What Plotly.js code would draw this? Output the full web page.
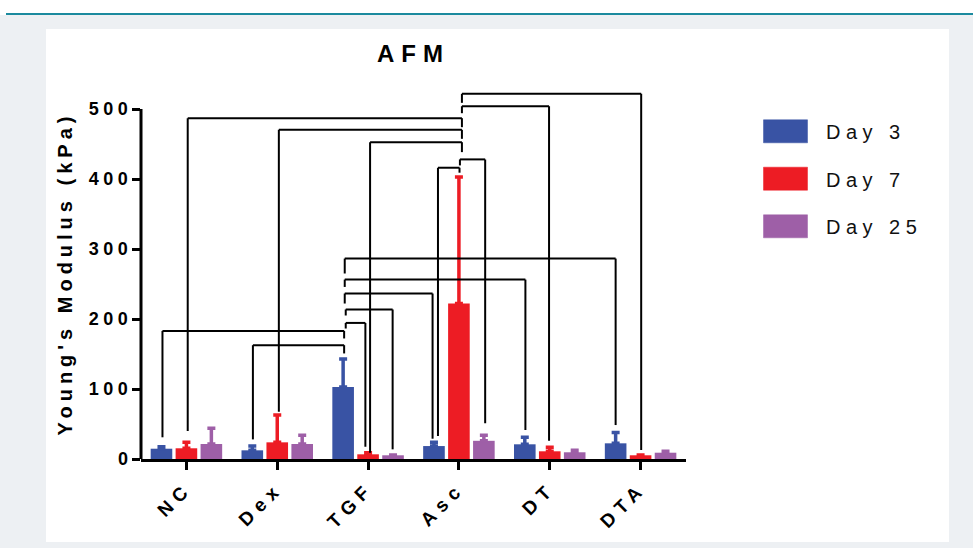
<!DOCTYPE html>
<html><head><meta charset="utf-8">
<script src="https://cdn.plot.ly/plotly-3.0.1.min.js"></script>
<style>
html,body{margin:0;padding:0;background:#fff;}
#chart{width:973px;height:548px;}
.gtitle{letter-spacing:7px;}
.ytitle{letter-spacing:5px;}
.ytick text{letter-spacing:4.5px;}
.xtick text{letter-spacing:6px;}
.annotation-text{letter-spacing:5.5px;}
</style></head><body><div id="chart"></div>
<script>
// ---- data ----
const categories = ['NC', 'Dex', 'TGF', 'Asc', 'DT', 'DTA'];
const seriesNames = ['Day 3', 'Day 7', 'Day 25'];
const day3 = [14.7, 12.4, 103, 18.5, 21, 22.4];
const day3Err = [2.8, 6.1, 40, 5.3, 10, 15.6];
const day7 = [15.3, 23.8, 6.7, 222, 11, 5.3];
const day7Err = [8.7, 39.2, 2.3, 181, 5.7, 0.3];
const day25 = [21.4, 21.4, 5.3, 26, 9.6, 9];
const day25Err = [22.6, 12.4, 0.3, 7.8, 2.8, 2];
const yTicks = [0, 100, 200, 300, 400, 500];
// significance comparisons: [hubGroup, hubSeries, targetGroup, targetSeries, bracket level, hub leg end, target leg end] (kPa)
const comparisons = [
  [3, 1, 5, 1, 521.7, 508.8, 12.8],
  [3, 1, 4, 1, 504.0, 494.0, 26.2],
  [3, 1, 0, 1, 486.9, 474.0, 40.0],
  [3, 1, 1, 1, 470.3, 457.4, 67.5],
  [3, 1, 2, 1, 452.6, 438.4, 9.0],
  [3, 1, 3, 2, 428.0, 419.4, 51.0],
  [3, 1, 3, 0, 416.1, 409.0, 32.8],
  [2, 0, 5, 0, 286.3, 265.0, 48.5],
  [2, 0, 4, 0, 256.3, 245.8, 41.4],
  [2, 0, 3, 0, 236.4, 222.1, 29.0],
  [2, 0, 2, 2, 213.6, 205.0, 13.8],
  [2, 0, 2, 1, 194.4, 186.4, 17.5],
  [2, 0, 0, 0, 183.0, 172.2, 31.0],
  [2, 0, 1, 0, 162.6, 150.8, 28.0]
];

// ---- styles / layout ----
const colors = ['#3953a4', '#ed1c24', '#9e5fa7'];
const FONT = 'Liberation Sans, Arial, Helvetica, sans-serif';
const L = 141, T = 88, W = 545, H = 371, FW = 973, FH = 548;
const BARGAP = 0.176, BARGROUPGAP = 0.134;
const slot = (1 - BARGAP) / 3;
const pxPerUnit = W / categories.length;
const nudges = [[3,0.6],[3,-0.7],[3,1.3],[3,1.6],[3,2],[1,1.3],[0.6,4],[1.6,0],[1.6,0.6],[1.6,-1.4],[2.6,-0.4],[2.6,-2.7],[1,1],[1,0.6]];
const px2x = px => (px - L) / W;
const px2y = py => (T + H - py) / H;

const xIdx = categories.map((c, i) => i);
const vals = [day3, day7, day25];
const errs = [day3Err, day7Err, day25Err];

const traces = seriesNames.map((name, s) => ({
  type: 'bar',
  name: name,
  x: xIdx,
  y: vals[s],
  marker: {color: colors[s], line: {width: 0}},
  error_y: {type: 'data', symmetric: false, array: errs[s], arrayminus: errs[s].map(() => 0),
            color: colors[s], thickness: 3.5, width: 4},
  showlegend: false,
  hoverinfo: 'skip'
}));

const shapes = [];
// page background
shapes.push({type: 'rect', xref: 'paper', yref: 'paper', layer: 'below',
  x0: px2x(0), x1: px2x(FW), y0: px2y(15), y1: px2y(FH), fillcolor: '#edf0f3', line: {width: 0}});
shapes.push({type: 'line', xref: 'paper', yref: 'paper', layer: 'below',
  x0: px2x(6), x1: px2x(FW), y0: px2y(14), y1: px2y(14), line: {color: '#1b8a9e', width: 2}});
shapes.push({type: 'rect', xref: 'paper', yref: 'paper', layer: 'below',
  x0: px2x(46), x1: px2x(949), y0: px2y(29), y1: px2y(542), fillcolor: '#ffffff', line: {width: 0}});
// y axis line 0..500
shapes.push({type: 'line', xref: 'paper', yref: 'y', x0: 0, x1: 0, y0: -1.5, y1: yTicks[yTicks.length - 1],
  line: {color: '#000', width: 3}});

const barX = (g, s) => g + (s - 1) * slot;
comparisons.forEach((c, k) => {
  const [hg, hs, tg, ts, lvl, hEnd, tEnd] = c;
  const hx = barX(hg, hs) + nudges[k][0] / pxPerUnit;
  const tx = barX(tg, ts) + nudges[k][1] / pxPerUnit;
  const ln = {color: '#000', width: 2};
  shapes.push({type: 'line', xref: 'x', yref: 'y', x0: hx, x1: hx, y0: hEnd, y1: lvl, line: ln});
  shapes.push({type: 'line', xref: 'x', yref: 'y', x0: hx, x1: tx, y0: lvl, y1: lvl, line: ln});
  shapes.push({type: 'line', xref: 'x', yref: 'y', x0: tx, x1: tx, y0: lvl, y1: tEnd, line: ln});
});

// manual legend
const legendRows = [131.3, 178.7, 226.3];
const annotations = [];
seriesNames.forEach((name, s) => {
  const cy = legendRows[s];
  shapes.push({type: 'rect', xref: 'paper', yref: 'paper',
    x0: px2x(763.5), x1: px2x(807.5), y0: px2y(cy - 11.5), y1: px2y(cy + 11.5),
    fillcolor: colors[s], line: {color: colors[s], width: 0.5}});
  annotations.push({xref: 'paper', yref: 'paper', x: px2x(824), y: px2y(cy + 1),
    xanchor: 'left', yanchor: 'middle', showarrow: false, text: name,
    font: {family: FONT, size: 20, color: '#111'}});
});

const layout = {
  width: FW, height: FH,
  margin: {l: L, r: FW - L - W, t: T, b: FH - T - H, pad: 0},
  paper_bgcolor: '#ffffff', plot_bgcolor: 'rgba(0,0,0,0)',
  font: {family: FONT, color: '#000'},
  title: {text: 'AFM', font: {family: FONT, size: 24, weight: 700, color: '#000'},
          x: 0.5, xref: 'paper', xanchor: 'center', y: 1 - 54 / FH, yref: 'container', yanchor: 'middle'},
  barmode: 'group', bargap: BARGAP, bargroupgap: BARGROUPGAP,
  xaxis: {
    range: [-0.5, categories.length - 0.5], tickmode: 'array', tickvals: xIdx, ticktext: categories,
    tickangle: -45, ticks: 'outside', ticklen: 8, tickwidth: 3, tickcolor: '#000',
    showline: true, linecolor: '#000', linewidth: 3, showgrid: false, zeroline: false,
    tickfont: {family: FONT, size: 19, weight: 700, color: '#000'}, fixedrange: true
  },
  yaxis: {
    range: [0, 530], tickmode: 'array', tickvals: yTicks, ticks: 'outside', ticklen: 8, tickwidth: 3,
    tickcolor: '#000', showline: false, showgrid: false, zeroline: false, ticklabelstandoff: -4,
    tickfont: {family: FONT, size: 18, weight: 700, color: '#000'},
    title: {text: "Young's Modulus (kPa)", font: {family: FONT, size: 20, weight: 700, color: '#000'}, standoff: 10},
    fixedrange: true
  },
  shapes: shapes,
  annotations: annotations,
  hovermode: false
};

Plotly.newPlot('chart', traces, layout, {staticPlot: true, displayModeBar: false});
</script></body></html>
